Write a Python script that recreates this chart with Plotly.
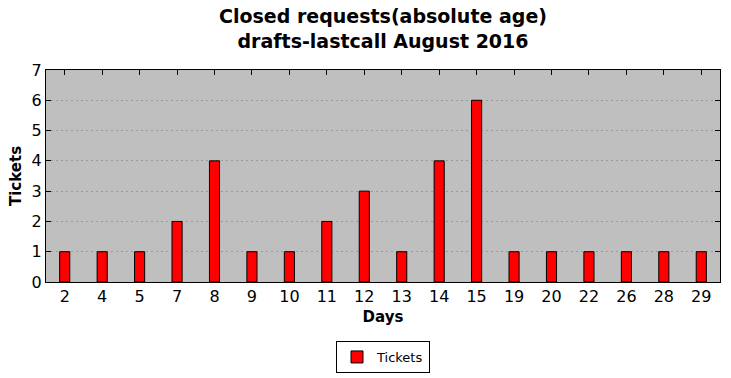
import plotly.graph_objects as go

days = ["2", "4", "5", "7", "8", "9", "10", "11", "12", "13", "14", "15", "19", "20", "22", "26", "28", "29"]
tickets = [1, 1, 1, 2, 4, 1, 1, 2, 3, 1, 4, 6, 1, 1, 1, 1, 1, 1]

fig = go.Figure()
fig.add_trace(go.Bar(
    x=days, y=tickets, name="Tickets", width=0.27,
    marker=dict(color="#ff0000", line=dict(color="black", width=1)),
))

font = "DejaVu Sans"
fig.update_layout(
    width=731, height=378,
    margin=dict(l=46, r=11, t=70, b=96),
    paper_bgcolor="white", plot_bgcolor="#bfbfbf",
    font=dict(family=font, color="black", size=13),
    title=dict(text="<b>Closed requests(absolute age)<br>drafts-lastcall August 2016</b>",
               x=0.5, xanchor="center", xref="paper", yref="container",
               y=0.938, yanchor="top",
               font=dict(family=font, size=19)),
    showlegend=True,
    legend=dict(orientation="h", x=0.5, xanchor="center", yref="container",
                y=1 - 341 / 378, yanchor="top",
                bordercolor="black", borderwidth=1, bgcolor="white",
                font=dict(size=13)),
)
fig.update_xaxes(
    type="category", range=[-0.5, 17.5], automargin=False, layer="below traces",
    showline=True, linecolor="black", linewidth=1, mirror="ticks",
    ticks="inside", ticklen=5, tickcolor="black", showgrid=False,
    tickfont=dict(size=16),
    title=dict(text="<b>Days</b>", font=dict(size=15), standoff=6),
)
fig.update_yaxes(
    range=[0, 7], dtick=1, automargin=False, layer="below traces",
    showline=True, linecolor="black", linewidth=1, mirror="ticks",
    ticks="inside", ticklen=5, tickcolor="black",
    showgrid=True, gridcolor="#999999", griddash="2px,3px", gridwidth=1,
    zeroline=False, tickfont=dict(size=16),
    title=dict(text="<b>Tickets</b>", font=dict(size=15), standoff=6),
)

fig.write_html("out.html", config={"displayModeBar": False},
               post_script="document.body.style.margin='0';")
